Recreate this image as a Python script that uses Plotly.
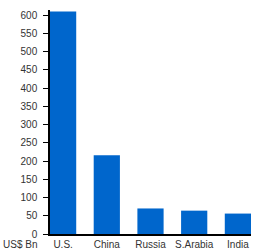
import plotly.graph_objects as go

countries = ["U.S.", "China", "Russia", "S.Arabia", "India"]
spending = [610, 216, 70, 64, 56]
y_ticks = [0, 50, 100, 150, 200, 250, 300, 350, 400, 450, 500, 550, 600]

fig = go.Figure(go.Bar(x=countries, y=spending, marker=dict(color="#0066cc", line=dict(width=0)), width=0.6))

fig.update_layout(
    width=270, height=250,
    margin=dict(l=50, r=19, t=10, b=16, autoexpand=False),
    paper_bgcolor="white", plot_bgcolor="white",
    font=dict(family="Liberation Sans, Arial, sans-serif", size=10, color="#333"),
    showlegend=False,
    bargap=0.4,
    xaxis=dict(range=[-0.3, 4.3], showline=True, linecolor="black", linewidth=1.5,
               ticks="", showgrid=False, zeroline=False, fixedrange=True, automargin=False,
               ticklabelstandoff=0),
    yaxis=dict(range=[0, 614], tickvals=y_ticks, showline=True, linecolor="black", linewidth=1.5,
               ticks="outside", ticklen=5, tickcolor="black", tickwidth=1,
               showgrid=False, zeroline=False, fixedrange=True, automargin=False,
               ticklabelstandoff=4),
    annotations=[dict(text="US$ Bn", xref="paper", yref="paper", x=-49 / 201, y=0,
                      xanchor="left", yanchor="top", yshift=-3,
                      showarrow=False, font=dict(size=10, color="#333"))],
)

fig.write_html("out.html")
